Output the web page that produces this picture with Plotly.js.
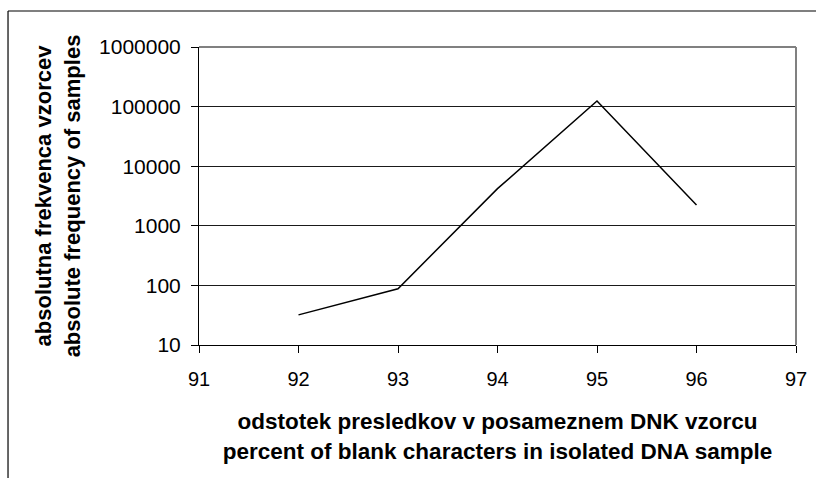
<!DOCTYPE html>
<html>
<head>
<meta charset="utf-8">
<script src="https://cdn.plot.ly/plotly-3.0.1.min.js"></script>
<style>
  html, body { margin: 0; padding: 0; background: #fff; }
  #chart { width: 816px; height: 478px; }
</style>
</head>
<body>
<div id="chart"></div>
<script>
// Data
const percentBlank = [92, 93, 94, 95, 96];
const frequency = [32, 88, 4200, 124000, 2230];
const yTickVals = [10, 100, 1000, 10000, 100000, 1000000];
const yTickText = ["10", "100", "1000", "10000", "100000", "1000000"];
const xTickVals = [91, 92, 93, 94, 95, 96, 97];
const yTitleLines = ["absolutna frekvenca vzorcev", "absolute frequency of samples"];
const xTitleLines = ["odstotek presledkov v posameznem DNK vzorcu", "percent of blank characters in isolated DNA sample"];

const FONT = "Liberation Sans, Arial, sans-serif";

const trace = {
  x: percentBlank,
  y: frequency,
  type: "scatter",
  mode: "lines",
  line: { color: "#000000", width: 1.5 },
  hoverinfo: "x+y"
};

const layout = {
  width: 816,
  height: 478,
  margin: { l: 199, r: 20, t: 47, b: 133 },
  paper_bgcolor: "#ffffff",
  plot_bgcolor: "#ffffff",
  showlegend: false,
  font: { family: FONT, color: "#000000" },
  xaxis: {
    range: [91, 97],
    tickvals: xTickVals,
    ticks: "outside",
    ticklen: 7,
    tickcolor: "#000000",
    tickwidth: 1,
    showline: true,
    linecolor: "#000000",
    linewidth: 1,
    showgrid: false,
    zeroline: false,
    tickfont: { family: FONT, size: 20, color: "#000000" },
    ticklabelstandoff: 9,
    title: {
      text: xTitleLines.join("<br>"),
      font: { family: FONT, size: 22.5, color: "#000000", weight: "bold" },
      standoff: 24
    },
    automargin: false
  },
  yaxis: {
    type: "log",
    range: [1, 6],
    tickvals: yTickVals,
    ticktext: yTickText,
    ticks: "outside",
    ticklen: 7,
    tickcolor: "#000000",
    tickwidth: 1,
    showline: true,
    linecolor: "#000000",
    linewidth: 1,
    showgrid: true,
    gridcolor: "#1a1a1a",
    gridwidth: 1,
    zeroline: false,
    tickfont: { family: FONT, size: 21, color: "#000000" },
    ticklabelstandoff: 6,
    title: {
      text: yTitleLines.join("<br>"),
      font: { family: FONT, size: 22, color: "#000000", weight: "bold" },
      standoff: 12
    },
    automargin: false
  },
  shapes: [
    // gray plot-area frame: top and right edges
    { type: "line", xref: "paper", yref: "paper", x0: 0, x1: 1, y0: 1, y1: 1,
      line: { color: "#808080", width: 2 }, layer: "above" },
    { type: "line", xref: "paper", yref: "paper", x0: 1, x1: 1, y0: 0, y1: 1,
      line: { color: "#808080", width: 2 }, layer: "above" },
    // outer chart border (left and top edges visible)
    { type: "line", xref: "paper", yref: "paper", x0: -0.3199, x1: 1.06, y0: 1.1208, y1: 1.1208,
      line: { color: "#000000", width: 1.2 } },
    { type: "line", xref: "paper", yref: "paper", x0: -0.3199, x1: -0.3199, y0: 1.1208, y1: -0.5,
      line: { color: "#000000", width: 1.2 } }
  ]
};

Plotly.newPlot("chart", [trace], layout, { displayModeBar: false, staticPlot: true });
</script>
</body>
</html>
